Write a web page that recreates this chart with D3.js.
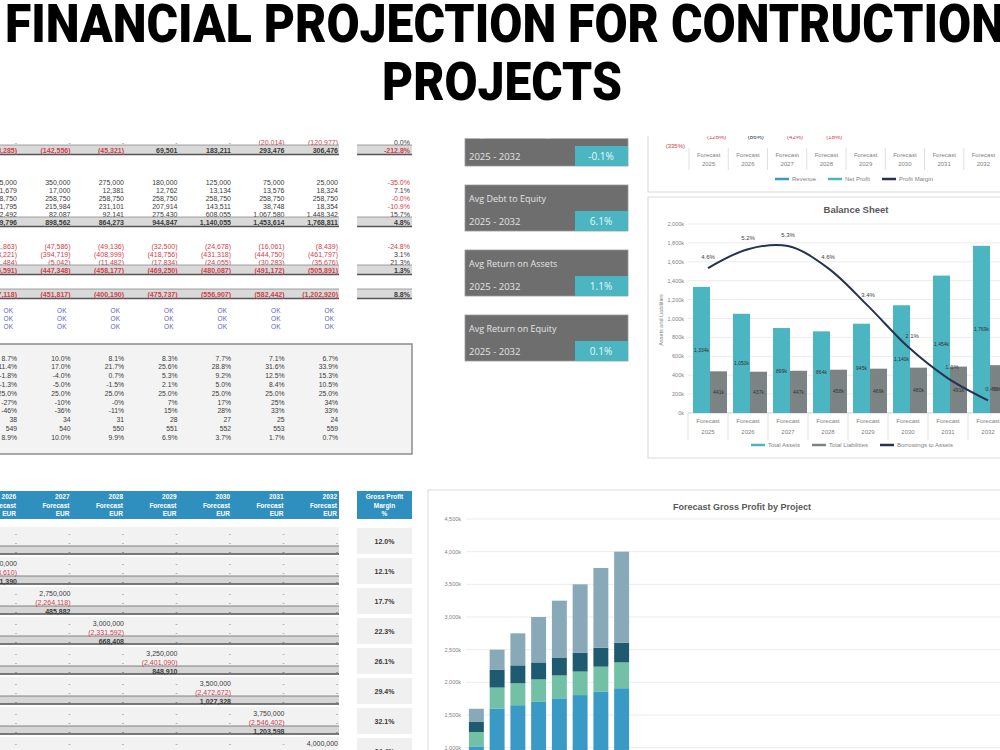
<!DOCTYPE html>
<html>
<head>
<meta charset="utf-8">
<script src="https://d3js.org/d3.v7.min.js"></script>
<style>
body { margin: 0; background: #fff; }
text { font-family: "Liberation Sans", Arial, sans-serif; }
</style>
</head>
<body>
<div id="chart"></div>
<script>
// ---------- data ----------
var titleLines = ["FINANCIAL PROJECTION FOR CONTRUCTION", "PROJECTS"]

var years = ["2025", "2026", "2027", "2028", "2029", "2030", "2031", "2032"]
var tableYears = ["2026", "2027", "2028", "2029", "2030", "2031", "2032"]

// balance sheet (k EUR) and borrowings to assets (%)
var totalAssets = [1334, 1050, 899, 864, 945, 1140, 1454, 1769]
var totalLiabilities = [441, 437, 447, 458, 469, 480, 491, 506]
var borrowingsToAssets = [4.6, 5.2, 5.3, 4.6, 3.4, 2.1, 1.1, 0.4]
var bsLegend = ["Total Assets", "Total Liabilities", "Borrowings to Assets"]

// forecast gross profit by project (k EUR), stacked bottom to top
var gpKeys = ["p1", "p2", "p3", "p4"]
var gpProject1 = [1020, 1600, 1650, 1700, 1755, 1805, 1860, 1910]
var gpProject2 = [220, 320, 335, 345, 350, 360, 380, 395]
var gpProject3 = [160, 275, 275, 260, 275, 290, 290, 300]
var gpProject4 = [195, 305, 490, 695, 870, 1045, 1220, 1395]

// top right chart (only its bottom is visible)
var plLegend = ["Revenue", "Net Profit", "Profit Margin"]
var plCutLabels = ["(128%)", "(86%)", "(42%)", "(18%)"]

// KPI tiles
var kpiLabels = ["Avg Net Profit Margin", "Avg Debt to Equity", "Avg Return on Assets", "Avg Return on Equity"]
var kpiPeriod = "2025 - 2032"
var kpiValues = ["-0.1%", "6.1%", "1.1%", "0.1%"]

// top-left sheet: [slot, isTotal, values 2026..2032, change %]
var sheetSlots = [0, 1, 5, 6, 7, 8, 9, 10, 13, 14, 15, 16, 19]
var sheetTotals = [false, true, false, false, false, false, false, true, false, false, false, true, true]
var sheetValues = [
	["-", "-", "-", "-", "-", "(20,014)", "(120,977)"],
	["(198,285)", "(142,556)", "(45,321)", "69,501", "183,211", "293,476", "306,476"],
	["425,000", "350,000", "275,000", "180,000", "125,000", "75,000", "25,000"],
	["21,679", "17,000", "12,381", "12,762", "13,134", "13,576", "18,324"],
	["258,750", "258,750", "258,750", "258,750", "258,750", "258,750", "258,750"],
	["221,795", "215,984", "231,101", "207,914", "143,511", "38,748", "18,354"],
	["122,492", "82,087", "92,141", "275,430", "608,055", "1,067,580", "1,448,342"],
	["1,049,796", "898,562", "864,273", "944,847", "1,140,055", "1,453,614", "1,768,811"],
	["(51,863)", "(47,586)", "(49,136)", "(32,500)", "(24,678)", "(16,061)", "(8,439)"],
	["(383,221)", "(394,719)", "(408,999)", "(418,756)", "(431,318)", "(444,750)", "(461,797)"],
	["(1,484)", "(5,042)", "(11,482)", "(17,834)", "(24,055)", "(30,283)", "(35,676)"],
	["(436,591)", "(447,348)", "(458,177)", "(469,250)", "(480,087)", "(491,172)", "(505,891)"],
	["(417,118)", "(451,817)", "(400,190)", "(475,737)", "(556,907)", "(582,442)", "(1,202,920)"]
]
var sheetChange = ["0.0%", "-212.8%", "-35.0%", "7.1%", "-0.0%", "-10.9%", "15.7%", "4.8%", "-24.8%", "3.1%", "21.3%", "1.3%", "8.8%"]

var checkSlots = [21, 22, 23]
var checkText = "OK"

var ratioRows = [
	["8.7%", "10.0%", "8.1%", "8.3%", "7.7%", "7.1%", "6.7%"],
	["11.4%", "17.0%", "21.7%", "25.6%", "28.8%", "31.6%", "33.9%"],
	["-1.8%", "-4.0%", "0.7%", "5.3%", "9.2%", "12.5%", "15.3%"],
	["-1.3%", "-5.0%", "-1.5%", "2.1%", "5.0%", "8.4%", "10.5%"],
	["25.0%", "25.0%", "25.0%", "25.0%", "25.0%", "25.0%", "25.0%"],
	["-27%", "-10%", "-0%", "7%", "17%", "25%", "34%"],
	["-46%", "-36%", "-11%", "15%", "28%", "33%", "33%"],
	["38", "34", "31", "28", "27", "25", "24"],
	["549", "540", "550", "551", "552", "553", "559"],
	["8.9%", "10.0%", "9.9%", "6.9%", "3.7%", "1.7%", "0.7%"]
]

// bottom-left project sheet
var projectRevenue = ["2,250,000", "2,500,000", "2,750,000", "3,000,000", "3,250,000", "3,500,000", "3,750,000", "4,000,000"]
var projectCost = ["(1,980,000)", "(2,198,610)", "(2,264,118)", "(2,331,592)", "(2,401,090)", "(2,472,672)", "(2,546,402)", "(2,622,870)"]
var projectProfit = ["270,000", "301,390", "485,882", "668,408", "848,910", "1,027,328", "1,203,598", "1,377,130"]
var projectColumn = [-1, 0, 1, 2, 3, 4, 5, 6]
var projectMargin = ["12.0%", "12.1%", "17.7%", "22.3%", "26.1%", "29.4%", "32.1%", "34.4%"]

// ---------- colours ----------
var red = "#d2404b", ink = "#3a3a3a", dash = "#8a8a8a"
var teal = "#4bb5c1", slate = "#7b8384", navy = "#26324f"
var gpColors = { p1: "#3a9ac6", p2: "#72c1a6", p3: "#1e5b70", p4: "#88a9b7" }

var svg = d3.select("#chart").append("svg")
	.attr("width", 1000)
	.attr("height", 750)

// ---------- title ----------
svg.selectAll(".title")
	.data(titleLines)
	.enter()
	.append("text")
	.attr("class", "title")
	.attr("x", function(d, i){ return i == 0 ? 505 : 502 })
	.attr("y", function(d, i){ return 42 + i * 58 })
	.attr("text-anchor", "middle")
	.attr("textLength", function(d, i){ return i == 0 ? 1000 : 240 })
	.attr("lengthAdjust", "spacingAndGlyphs")
	.style("font-family", "Roboto")
	.style("font-weight", 900)
	.style("font-size", "53px")
	.style("fill", "#000")
	.text(function(d){ return d })

svg.append("clipPath").attr("id", "shot")
	.append("rect").attr("x", 0).attr("y", 136).attr("width", 1000).attr("height", 614)
svg.append("clipPath").attr("id", "tiles")
	.append("rect").attr("x", 0).attr("y", 138.5).attr("width", 1000).attr("height", 612)

var shot = svg.append("g").attr("clip-path", "url(#shot)")
var tiles = svg.append("g").attr("clip-path", "url(#tiles)")

function valColor(v){
	if (v == "-") return dash
	if (v.charAt(0) == "(") return red
	return ink
}
function pctColor(v){ return v.charAt(0) == "-" ? red : ink }

// ---------- top-left sheet ----------
var colX = d3.scaleLinear().domain([0, 6]).range([17, 338])
var slotY = d3.scaleLinear().domain([0, 1]).range([142, 150])

var sheet = shot.append("g")
sheetValues.forEach(function(vals, r){
	var y = slotY(sheetSlots[r])
	var total = sheetTotals[r]
	if (total){
		sheet.append("rect").attr("x", -2).attr("y", y - 5).attr("width", 341).attr("height", 9).attr("fill", "#d9d9d9")
		sheet.append("line").attr("x1", -2).attr("x2", 339).attr("y1", y - 5).attr("y2", y - 5).attr("stroke", "#8c8c8c").attr("stroke-width", 0.8)
		sheet.append("line").attr("x1", -2).attr("x2", 339).attr("y1", y + 4.5).attr("y2", y + 4.5).attr("stroke", "#555").attr("stroke-width", 1.4)
		sheet.append("rect").attr("x", 357).attr("y", y - 5).attr("width", 55).attr("height", 9).attr("fill", "#d9d9d9")
		sheet.append("line").attr("x1", 357).attr("x2", 412).attr("y1", y - 5).attr("y2", y - 5).attr("stroke", "#8c8c8c").attr("stroke-width", 0.8)
		sheet.append("line").attr("x1", 357).attr("x2", 412).attr("y1", y + 4.5).attr("y2", y + 4.5).attr("stroke", "#555").attr("stroke-width", 1.4)
	}
	sheet.selectAll(null)
		.data(vals)
		.enter()
		.append("text")
		.attr("x", function(d, i){ return colX(i) })
		.attr("y", y + 2.5)
		.attr("text-anchor", "end")
		.style("font-size", "7px")
		.style("font-weight", total ? 700 : 400)
		.style("fill", function(d){ return valColor(d) })
		.text(function(d){ return d })
	sheet.append("text")
		.attr("x", 410).attr("y", y + 2.5)
		.attr("text-anchor", "end")
		.style("font-size", "7px")
		.style("font-weight", total ? 700 : 400)
		.style("fill", pctColor(sheetChange[r]))
		.text(sheetChange[r])
})

checkSlots.forEach(function(s){
	sheet.selectAll(null)
		.data(tableYears)
		.enter()
		.append("text")
		.attr("x", function(d, i){ return colX(i) - 4 })
		.attr("y", slotY(s) + 2.5)
		.attr("text-anchor", "end")
		.style("font-size", "6.5px")
		.style("fill", "#5a5fb8")
		.text(checkText)
})

var ratioY = d3.scaleLinear().domain([0, 1]).range([358, 366.8])
sheet.append("rect").attr("x", -3).attr("y", 344).attr("width", 415).attr("height", 110)
	.attr("fill", "#f3f3f3").attr("stroke", "#8c8c8c").attr("stroke-width", 1.5)
ratioRows.forEach(function(vals, r){
	sheet.selectAll(null)
		.data(vals)
		.enter()
		.append("text")
		.attr("x", function(d, i){ return colX(i) })
		.attr("y", ratioY(r) + 2.5)
		.attr("text-anchor", "end")
		.style("font-size", "6.8px")
		.style("fill", ink)
		.text(function(d){ return d })
})

// ---------- KPI tiles ----------
var kpiY = d3.scaleLinear().domain([0, 3]).range([120, 315])
var kpi = tiles.selectAll(".kpi")
	.data(kpiValues)
	.enter()
	.append("g")
	.attr("class", "kpi")
	.attr("transform", function(d, i){ return "translate(465," + kpiY(i) + ")" })
kpi.append("rect").attr("width", 163).attr("height", 46).attr("fill", "#6e6e6e").attr("stroke", "#9a9a9a").attr("stroke-width", 0.8)
kpi.append("rect").attr("x", 110).attr("y", 26).attr("width", 53).attr("height", 20).attr("fill", teal)
kpi.append("text").attr("x", 4).attr("y", 17)
	.style("font-family", "Open Sans").style("font-size", "9px").style("fill", "#e4e4e4")
	.text(function(d, i){ return kpiLabels[i] })
kpi.append("text").attr("x", 4).attr("y", 40)
	.style("font-family", "Open Sans").style("font-size", "9.5px").style("fill", "#e4e4e4")
	.text(kpiPeriod)
kpi.append("text").attr("x", 136).attr("y", 40).attr("text-anchor", "middle")
	.style("font-family", "Open Sans").style("font-size", "10px").style("fill", "#e8f7f8")
	.text(function(d){ return d })

// ---------- top-right chart fragment ----------
var pl = shot.append("g")
pl.append("rect").attr("x", 648).attr("y", 60).attr("width", 420).attr("height", 132)
	.attr("fill", "#fff").attr("stroke", "#d9d9d9")
var plx = d3.scaleBand().domain(years).range([689, 1003])
pl.selectAll(".plsep").data(years).enter().append("line")
	.attr("x1", function(d){ return plx(d) }).attr("x2", function(d){ return plx(d) })
	.attr("y1", 148).attr("y2", 170).attr("stroke", "#e0e0e0")
pl.selectAll(".plcat1").data(years).enter().append("text")
	.attr("x", function(d){ return plx(d) + plx.bandwidth() / 2 }).attr("y", 157)
	.attr("text-anchor", "middle").style("font-size", "6px").style("fill", "#7f7f7f").text("Forecast")
pl.selectAll(".plcat2").data(years).enter().append("text")
	.attr("x", function(d){ return plx(d) + plx.bandwidth() / 2 }).attr("y", 166)
	.attr("text-anchor", "middle").style("font-size", "6px").style("fill", "#7f7f7f").text(function(d){ return d })
pl.selectAll(".plcut").data(plCutLabels).enter().append("text")
	.attr("x", function(d, i){ return plx(years[i]) + plx.bandwidth() / 2 + 8 }).attr("y", 139)
	.attr("text-anchor", "middle").style("font-size", "6px")
	.style("fill", function(d, i){ return i == 1 ? navy : red }).text(function(d){ return d })
pl.append("text").attr("x", 685).attr("y", 148).attr("text-anchor", "end")
	.style("font-size", "6px").style("fill", red).text("(335%)")

function drawLegend(g, labels, colors, y, center){
	var items = g.selectAll(null).data(labels).enter().append("g")
	items.append("line").attr("x1", 0).attr("x2", 14).attr("y1", 0).attr("y2", 0)
		.attr("stroke", function(d, i){ return colors[i] }).attr("stroke-width", 2.5)
	items.append("text").attr("x", 17).attr("y", 2)
		.style("font-size", "6px").style("fill", "#7f7f7f").text(function(d){ return d })
	var widths = []
	items.each(function(){ widths.push(17 + d3.select(this).select("text").node().getComputedTextLength()) })
	var total = d3.sum(widths) + 12 * (labels.length - 1)
	var x = center - total / 2
	items.attr("transform", function(d, i){
		var t = "translate(" + x + "," + y + ")"
		x += widths[i] + 12
		return t
	})
}
drawLegend(pl, plLegend, [gpColors.p1, teal, navy], 179, 854)

// ---------- balance sheet ----------
var bs = shot.append("g")
bs.append("rect").attr("x", 648).attr("y", 197).attr("width", 420).attr("height", 261)
	.attr("fill", "#fff").attr("stroke", "#d9d9d9")
bs.append("text").attr("x", 856).attr("y", 213).attr("text-anchor", "middle")
	.style("font-size", "9.5px").style("font-weight", 700).style("fill", "#595959").text("Balance Sheet")

var bx = d3.scaleBand().domain(years).range([688, 1008])
var bxIn = d3.scaleBand().domain(["a", "l"]).range([5, 39])
var by = d3.scaleLinear().domain([0, 2000]).range([413, 224])
var by2 = d3.scaleLinear().domain([0, 6]).range([413, 224])

bs.selectAll(".bgrid").data(by.ticks(10)).enter().append("line")
	.attr("x1", 688).attr("x2", 1008)
	.attr("y1", function(d){ return by(d) }).attr("y2", function(d){ return by(d) })
	.attr("stroke", function(d){ return d == 0 ? "#d0d0d0" : "#ececec" })
bs.selectAll(".btick").data(by.ticks(10)).enter().append("text")
	.attr("x", 684).attr("y", function(d){ return by(d) + 2 })
	.attr("text-anchor", "end").style("font-size", "5.5px").style("fill", "#7f7f7f")
	.text(function(d){ return d3.format(",")(d) + "k" })
bs.append("text").attr("transform", "translate(663,320) rotate(-90)").attr("text-anchor", "middle")
	.style("font-size", "5.5px").style("fill", "#7f7f7f").text("Assets and Liabilities")

var bsGroups = bs.selectAll(".bgroup").data(years).enter().append("g")
	.attr("transform", function(d){ return "translate(" + bx(d) + ",0)" })
bsGroups.append("rect")
	.attr("x", bxIn("a")).attr("width", bxIn.bandwidth())
	.attr("y", function(d, i){ return by(totalAssets[i]) })
	.attr("height", function(d, i){ return by(0) - by(totalAssets[i]) })
	.attr("fill", teal)
bsGroups.append("rect")
	.attr("x", bxIn("l")).attr("width", bxIn.bandwidth())
	.attr("y", function(d, i){ return by(totalLiabilities[i]) })
	.attr("height", function(d, i){ return by(0) - by(totalLiabilities[i]) })
	.attr("fill", slate)
bsGroups.append("text")
	.attr("x", bxIn("a") + bxIn.bandwidth() / 2)
	.attr("y", function(d, i){ return (by(totalAssets[i]) + by(0)) / 2 + 2 })
	.attr("text-anchor", "middle").style("font-size", "5px").style("fill", "#333")
	.text(function(d, i){ return d3.format(",")(totalAssets[i]) + "k" })
bsGroups.append("text")
	.attr("x", bxIn("l") + bxIn.bandwidth() / 2)
	.attr("y", function(d, i){ return (by(totalLiabilities[i]) + by(0)) / 2 + 2 })
	.attr("text-anchor", "middle").style("font-size", "5px").style("fill", "#333")
	.text(function(d, i){ return d3.format(",")(totalLiabilities[i]) + "k" })
bsGroups.append("line").attr("x1", 0).attr("x2", 0).attr("y1", 413).attr("y2", 440).attr("stroke", "#e0e0e0")
bsGroups.append("text").attr("x", 20).attr("y", 423).attr("text-anchor", "middle")
	.style("font-size", "6px").style("fill", "#7f7f7f").text("Forecast")
bsGroups.append("text").attr("x", 20).attr("y", 434).attr("text-anchor", "middle")
	.style("font-size", "6px").style("fill", "#7f7f7f").text(function(d){ return d })

var bline = d3.line()
	.x(function(d, i){ return bx(years[i]) + bx.bandwidth() / 2 })
	.y(function(d){ return by2(d) })
	.curve(d3.curveCatmullRom)
bs.append("path").datum(borrowingsToAssets).attr("d", bline)
	.attr("fill", "none").attr("stroke", navy).attr("stroke-width", 2)
bs.selectAll(".blab").data(borrowingsToAssets).enter().append("text")
	.attr("x", function(d, i){ return bx(years[i]) + bx.bandwidth() / 2 + (i > 4 ? 4 : 0) })
	.attr("y", function(d){ return by2(d) - 9 })
	.attr("text-anchor", "middle").style("font-size", "6px").style("fill", "#404040")
	.text(function(d){ return d3.format(".1f")(d) + "%" })
drawLegend(bs, bsLegend, [teal, slate, navy], 445, 852)

// ---------- bottom-left project sheet ----------
var ps = shot.append("g")
ps.append("rect").attr("x", -2).attr("y", 491).attr("width", 341).attr("height", 28).attr("fill", "#2f8fbf")
ps.append("rect").attr("x", 357).attr("y", 491).attr("width", 55).attr("height", 28).attr("fill", "#2f8fbf")
var headRows = [function(d){ return d }, function(){ return "Forecast" }, function(){ return "EUR" }]
headRows.forEach(function(f, j){
	ps.selectAll(null).data(tableYears).enter().append("text")
		.attr("x", function(d, i){ return colX(i) - 1 }).attr("y", 499 + j * 8.5)
		.attr("text-anchor", "end").style("font-size", "6.5px").style("font-weight", 700)
		.style("fill", "#fff").text(f)
})
ps.selectAll(".mh").data(["Gross Profit", "Margin", "%"]).enter().append("text")
	.attr("x", 384.5).attr("y", function(d, j){ return 499 + j * 8.5 })
	.attr("text-anchor", "middle").style("font-size", "6.5px").style("font-weight", 700)
	.style("fill", "#fff").text(function(d){ return d })

var blockY = d3.scaleLinear().domain([0, 1]).range([533, 563])
projectRevenue.forEach(function(rev, k){
	var y0 = blockY(k)
	ps.append("rect").attr("x", -2).attr("y", y0 - 6).attr("width", 341).attr("height", 28).attr("fill", "#f2f2f2")
	ps.append("rect").attr("x", -2).attr("y", y0 + 13).attr("width", 341).attr("height", 8).attr("fill", "#d6d6d6")
	ps.append("line").attr("x1", -2).attr("x2", 339).attr("y1", y0 + 13).attr("y2", y0 + 13).attr("stroke", "#777").attr("stroke-width", 0.9)
	ps.append("line").attr("x1", -2).attr("x2", 339).attr("y1", y0 + 21).attr("y2", y0 + 21).attr("stroke", "#555").attr("stroke-width", 1.4)
	ps.append("rect").attr("x", 357).attr("y", y0 - 5).attr("width", 55).attr("height", 26).attr("fill", "#f0f0f0")
	ps.append("text").attr("x", 384.5).attr("y", y0 + 10.5).attr("text-anchor", "middle")
		.style("font-size", "7px").style("font-weight", 700).style("fill", ink).text(projectMargin[k])
	var lines = [rev, projectCost[k], projectProfit[k]]
	lines.forEach(function(v, j){
		ps.selectAll(null).data(tableYears).enter().append("text")
			.attr("x", function(d, i){ return colX(i) })
			.attr("y", y0 + j * 9 + 2.5)
			.attr("text-anchor", "end")
			.style("font-size", "7px")
			.style("font-weight", j == 2 ? 700 : 400)
			.style("fill", function(d, i){ return i == projectColumn[k] ? (j == 1 ? red : ink) : dash })
			.text(function(d, i){ return i == projectColumn[k] ? v : "-" })
	})
})

// ---------- forecast gross profit by project ----------
var gp = shot.append("g")
gp.append("rect").attr("x", 428).attr("y", 490).attr("width", 640).attr("height", 300)
	.attr("fill", "#fff").attr("stroke", "#d9d9d9")
gp.append("text").attr("x", 742).attr("y", 510).attr("text-anchor", "middle")
	.style("font-size", "9px").style("font-weight", 700).style("fill", "#595959").text("Forecast Gross Profit by Project")

var gx = d3.scaleBand().domain(years).range([466, 632]).paddingInner(0.28).paddingOuter(0.14)
var gy = d3.scaleLinear().domain([0, 4500]).range([813, 519])
gp.selectAll(".ggrid").data(gy.ticks(9)).enter().append("line")
	.attr("x1", 466).attr("x2", 1000)
	.attr("y1", function(d){ return gy(d) }).attr("y2", function(d){ return gy(d) })
	.attr("stroke", "#ececec")
gp.selectAll(".gtick").data(gy.ticks(9)).enter().append("text")
	.attr("x", 461).attr("y", function(d){ return gy(d) + 2 })
	.attr("text-anchor", "end").style("font-size", "5.5px").style("fill", "#7f7f7f")
	.text(function(d){ return d3.format(",")(d) + "k" })

var gpRows = years.map(function(y, i){
	return { year: y, p1: gpProject1[i], p2: gpProject2[i], p3: gpProject3[i], p4: gpProject4[i] }
})
var gpSeries = d3.stack().keys(gpKeys)(gpRows)
gp.selectAll(".gser").data(gpSeries).enter().append("g")
	.attr("fill", function(d){ return gpColors[d.key] })
	.selectAll("rect")
	.data(function(d){ return d })
	.enter()
	.append("rect")
	.attr("x", function(d){ return gx(d.data.year) })
	.attr("width", gx.bandwidth())
	.attr("y", function(d){ return gy(d[1]) })
	.attr("height", function(d){ return gy(d[0]) - gy(d[1]) })
</script>
</body>
</html>
